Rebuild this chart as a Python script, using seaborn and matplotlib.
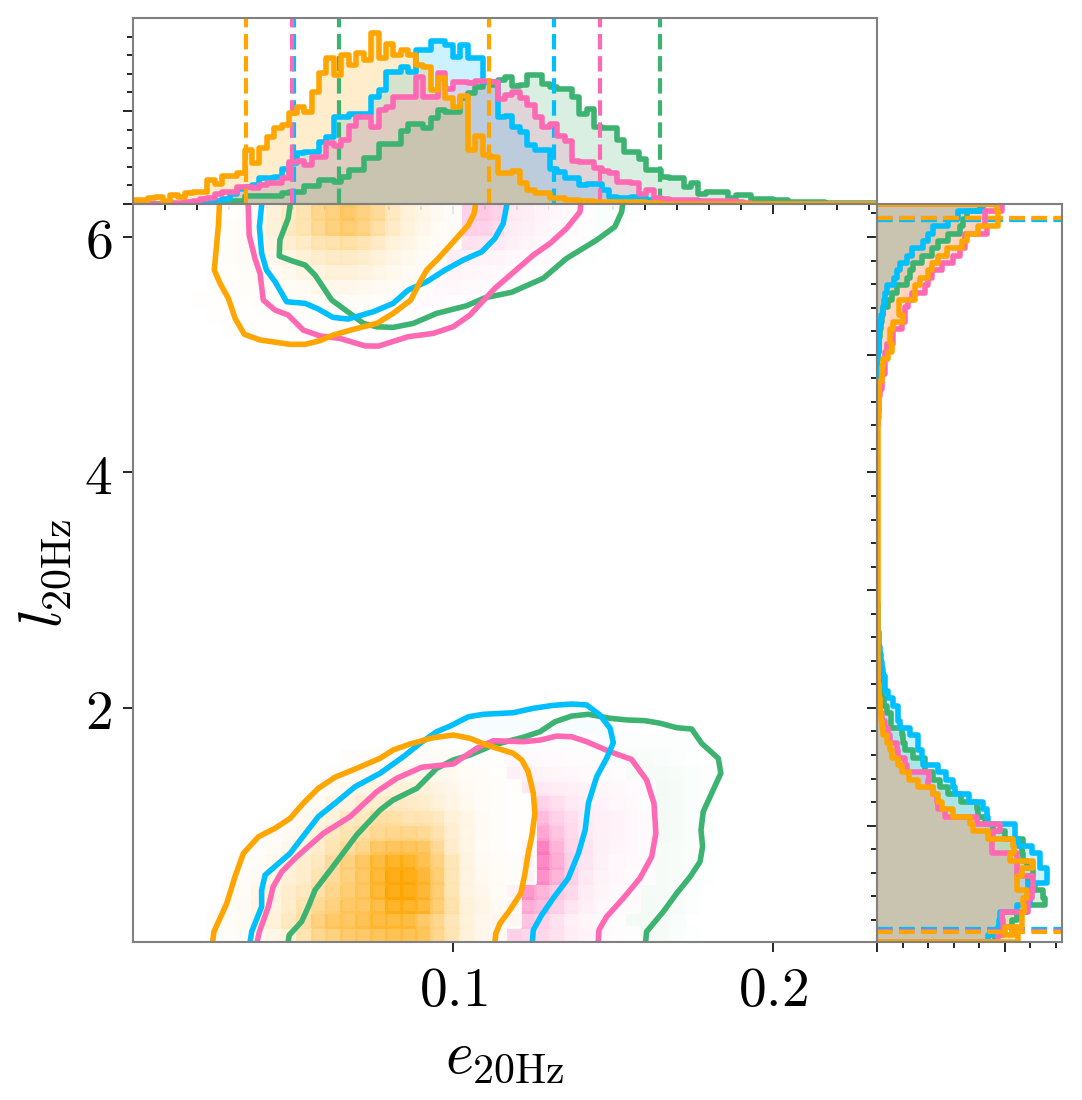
### Joint posterior of eccentricity and mean anomaly with marginal histograms
import numpy as np
import matplotlib
matplotlib.use('Agg')
import matplotlib.pyplot as plt
import seaborn as sns

# colours of the four runs, in drawing order
green = '#3CB371'
blue = '#00BFFF'
pink = '#FF69B4'
orange = '#FFA500'

# top marginal, counts per bin (100 bins)
top_green = [0,0,0,0,0,0,0,0,1,2,4,6,8,10,10,25,25,25,25,25,34,37,37,55,55,72,72,65,82,102,102,137,137,180,180,180,220,240,240,227,257,282,277,277,317,334,352,367,357,372,382,354,357,387,387,360,350,344,344,320,270,284,232,227,227,192,157,157,134,102,102,82,79,79,52,62,30,35,35,35,17,27,27,14,14,14,12,12,7,7,7,7,7,4,4,4,4,4,4,4]
top_blue = [0,0,0,0,0,0,0,1,2,4,5,8,15,30,45,50,57,77,77,80,104,122,152,157,157,187,202,262,262,270,270,270,322,342,397,397,412,397,462,462,490,490,477,442,477,437,437,367,367,262,264,230,217,177,162,162,104,97,77,77,57,60,60,42,22,17,17,22,22,12,4,4,4,2]
top_pink = [0,0,0,0,2,3,4,7,10,15,19,30,37,37,50,52,47,57,64,64,77,127,130,117,142,142,184,174,192,234,262,262,232,282,290,320,322,322,382,320,320,394,344,367,367,362,370,370,367,314,328,337,317,297,262,232,240,205,190,130,127,127,108,100,92,67,65,64,30,42,17,14,12,12,12,12,10,10,10,8,8,6,4,1]
top_orange = [12,12,17,20,10,27,22,32,35,37,72,60,85,85,92,162,124,167,202,227,237,274,290,277,337,392,437,387,447,417,452,432,512,437,479,447,462,447,417,410,342,377,317,292,324,162,204,147,142,92,92,100,62,42,34,32,17,17,12,12,10,8,7,7,6,6,6,5,5,4,3]

# right marginal, counts per bin: lower lobe from the bottom, upper lobe from the top
low_green = [354,379,404,419,449,504,499,474,454,469,449,439,434,439,384,349,324,304,299,251,214,189,169,144,144,109,84,79,74,41,41,29,20,14,10,8,6,5,4,3,3,2]
low_blue = [334,364,367,369,419,459,449,454,509,509,489,489,464,424,414,414,334,329,319,277,234,229,207,184,139,134,124,124,99,69,64,64,47,34,24,24,18,15,12,8,6,5,4,3,3,2]
low_pink = [364,379,379,374,452,454,464,469,469,419,419,419,344,344,349,369,299,204,184,179,169,154,157,89,84,64,59,39,34,24,14,9,7,4,3,3,2,2]
low_orange = [424,384,434,436,441,439,451,419,419,434,469,399,411,409,334,289,279,229,194,184,169,124,97,74,64,46,39,29,19,14,12,9,9,7,5,3]
high_green = [309,269,259,249,214,184,164,134,109,99,89,59,44,34,19,14,11,9,7,5,3]
high_blue = [319,244,214,169,154,139,104,89,69,59,51,31,24,21,19,11,9,7,5,5,3]
high_pink = [374,324,324,329,264,264,249,229,194,164,154,144,104,94,84,84,74,49,49,29,24,24,24,14,14,10,7,5,4,3]
high_orange = [359,364,364,304,269,254,209,184,164,154,129,114,114,67,67,79,49,39,39,44,34,19,14,14,7,7,6,5,5,4,4]

# credible bounds marked on the marginals
bounds_x_green = [0.0644, 0.1647]
bounds_x_blue = [0.0503, 0.1316]
bounds_x_pink = [0.0497, 0.1459]
bounds_x_orange = [0.0353, 0.1112]
bounds_y_green = [0.12, 6.14]
bounds_y_blue = [0.125, 6.14]
bounds_y_pink = [0.105, 6.16]
bounds_y_orange = [0.10, 6.16]

# 90% contours, each with a lower and an upper lobe
green_low_x = [.0485,.0488,.0527,.0548,.0569,.0621,.0699,.0772,.0813,.0887,.0949,.1001,.1053,.1126,.1220,.1272,.1319,.1371,.1423,.1491,.1543,.16,.1647,.1699,.1746,.1777,.1829,.1837,.1813,.1782,.1775,.178,.1772,.1741,.1699,.1657,.1605,.1602]
green_low_y = [.015,.07,.185,.312,.454,.638,.921,1.133,1.218,1.317,1.487,1.558,1.600,1.685,1.751,1.798,1.883,1.931,1.946,1.912,1.898,1.892,1.870,1.832,1.821,1.699,1.572,1.445,1.303,1.119,.963,.821,.694,.566,.425,.269,.100,.015]
green_high_x = [.0491,.0485,.0459,.0457,.0496,.0538,.0569,.0621,.0678,.0720,.0762,.0813,.0876,.0949,.1043,.1100,.1183,.1282,.1355,.1449,.1506,.1527,.1530]
green_high_y = [6.271,6.158,5.974,5.838,5.798,5.761,5.676,5.464,5.351,5.266,5.237,5.232,5.266,5.351,5.416,5.484,5.530,5.649,5.818,5.974,6.087,6.214,6.271]
pink_low_x = [.0388,.0395,.0423,.0438,.0465,.0512,.0595,.0678,.0762,.0824,.0902,.1001,.1074,.1126,.1220,.1272,.1324,.1371,.1418,.1491,.1558,.1605,.1628,.1634,.1621,.1584,.1532,.1480,.1456,.1454]
pink_low_y = [.015,.10,.312,.482,.609,.737,.935,1.076,1.289,1.402,1.496,1.524,1.657,1.722,1.713,1.727,1.761,1.755,1.713,1.628,1.563,1.387,1.19,.935,.737,.553,.383,.227,.114,.015]
pink_high_x = [.0360,.0363,.0381,.0397,.0407,.0444,.0485,.0532,.0584,.0647,.0725,.0767,.0860,.0938,.1001,.1053,.1131,.1251,.1303,.1355,.1397,.1399]
pink_high_y = [6.271,6.016,5.818,5.690,5.464,5.379,5.337,5.209,5.160,5.138,5.075,5.073,5.153,5.181,5.238,5.337,5.564,5.846,5.945,6.073,6.214,6.271]
blue_low_x = [.0366,.0371,.0402,.0402,.0413,.0491,.0527,.0579,.0637,.0694,.0772,.0845,.0897,.0949,.0991,.1048,.1095,.1188,.1251,.1313,.1371,.1418,.1459,.1491,.1501,.148,.1449,.1423,.1413,.1392,.136,.1313,.1277,.1251,.1248]
blue_low_y = [.015,.10,.312,.454,.581,.765,.893,1.076,1.203,1.331,1.445,1.586,1.699,1.798,1.846,1.925,1.946,1.959,1.997,2.022,2.033,2.025,1.94,1.827,1.705,1.572,1.416,1.19,.963,.765,.553,.383,.241,.114,.015]
blue_high_x = [.0402,.0395,.0402,.0417,.0444,.0480,.0538,.0579,.0625,.0672,.0751,.0813,.0860,.0918,.0975,.1032,.1090,.1131,.1157,.1168]
blue_high_y = [6.271,6.087,5.861,5.719,5.620,5.450,5.436,5.388,5.317,5.303,5.365,5.436,5.549,5.620,5.719,5.804,5.874,5.988,6.115,6.271]
orange_low_x = [.0249,.0253,.0293,.0319,.0345,.0392,.0444,.0491,.0532,.0579,.0631,.0699,.0772,.0813,.0866,.0938,.1001,.1053,.1105,.1188,.1215,.1235,.1251,.1256,.1246,.1235,.1225,.1212,.1178,.1147,.1134,.1131]
orange_low_y = [.015,.10,.34,.57,.765,.906,.978,1.062,1.19,1.317,1.411,1.487,1.572,1.643,1.694,1.747,1.77,1.742,1.685,1.615,1.558,1.458,1.275,1.105,.906,.765,.595,.426,.284,.171,.086,.015]
orange_high_x = [.0270,.0267,.0254,.0272,.0298,.0319,.0348,.0397,.0491,.0538,.0584,.0626,.0688,.0762,.0813,.0868,.0897,.0918,.0959,.1001,.1048,.1066,.1070]
orange_high_y = [6.271,6.101,5.719,5.606,5.479,5.309,5.173,5.125,5.088,5.088,5.119,5.167,5.215,5.266,5.351,5.464,5.620,5.719,5.832,5.959,6.101,6.2,6.271]

# 2d density read per cell of the 50x50 grid: (row, first column, values)
cells_green = [
    (0,33,[.07,.07,.05,.03,.01]), (1,33,[.06,.06,.05,.03]), (2,33,[.05,.06,.05,.04,.02]),
    (3,34,[.05,.05,.04,.02]), (4,34,[.04,.05,.04,.03,.01]), (5,34,[.04,.05,.04,.03,.01]),
    (6,34,[.04,.05,.04,.03,.01]), (7,34,[.04,.06,.05,.03,.02]), (8,34,[.04,.06,.05,.03,.02]),
    (9,34,[.04,.06,.05,.03,.02]), (10,34,[.04,.06,.05,.03,.02]), (11,32,[.03,.04,.05,.05,.04,.03,.02]),
    (12,30,[.03,.03,.03,.04,.04,.03,.02,.01]), (13,29,[.02,.02,.02,.02,.02,.02,.02,.02,.02]),
    (49,29,[.03,.03,.03,.03,.02]), (48,28,[.03,.03,.03,.03,.02]), (47,27,[.03,.03,.03,.03,.02]), (46,26,[.02,.02,.02,.02,.01]),
]
cells_blue = [
    (13,25,[.03,.03,.03,.03,.03,.03,.03]), (14,22,[.03,.03,.03,.03,.03,.03,.03,.03,.03,.03]),
]
cells_pink = [
    (0,24,[.02,.3,.28,.28,.2,.12,.08,.05,.02,.01]), (1,24,[.4,.4,.4,.3,.2,.1,.06,.04,.02]),
    (2,25,[.5,.55,.45,.3,.18,.1,.06,.03,.02]), (3,25,[.75,.7,.5,.35,.25,.12,.07,.04,.02]),
    (4,26,[.8,.75,.5,.3,.15,.08,.05,.03,.02]), (5,26,[.85,.8,.55,.3,.17,.09,.05,.04,.03]),
    (6,26,[.6,.85,.5,.28,.18,.1,.07,.05,.03]), (7,27,[.6,.4,.25,.15,.1,.08,.05,.03]),
    (8,27,[.45,.3,.22,.14,.1,.08,.05,.03]), (9,27,[.3,.22,.15,.11,.08,.05,.04,.02]),
    (10,26,[.15,.15,.13,.1,.08,.05,.04,.03,.02]), (11,25,[.1,.08,.07,.06,.05,.04,.03,.02]),
    (12,25,[.05,.04,.03,.03,.02,.02,.01]), (13,24,[.01,.01,.01,.01,.01,.01,.01]),
    (49,22,[.3,.35,.3,.15,.12,.08,.05,.04,.02]), (48,21,[.1,.3,.3,.25,.12,.1,.07,.04,.03,.01]),
    (47,21,[.12,.2,.18,.15,.1,.07,.05,.03,.02]), (46,20,[.08,.12,.1,.08,.07,.05,.04,.03,.02]),
    (45,19,[.05,.06,.07,.06,.05,.04,.03,.02,.01]), (44,18,[.03,.04,.05,.05,.04,.03,.02,.01]),
    (43,16,[.03,.03,.04,.03,.03,.02,.01]), (42,10,[.01,.01,.01,.01,.01,.01,.01,.01,.01,.01,.01]),
]
cells_orange = [
    (0,5,[.02,.02,.03,.05,.1,.15,.3,.45,.5,.58,.6,.65,.68,.68,.65,.45,.3,.15,.08,.05]),
    (1,5,[.02,.03,.05,.1,.15,.25,.35,.5,.6,.62,.68,.75,.75,.75,.6,.45,.28,.15,.08,.05,.03]),
    (2,6,[.03,.05,.1,.12,.2,.3,.42,.5,.6,.62,.72,.85,.85,.78,.55,.33,.15,.1,.05,.03]),
    (3,6,[.02,.04,.08,.12,.2,.25,.35,.45,.55,.62,.78,.95,.95,.8,.55,.3,.12,.08,.04,.02]),
    (4,7,[.03,.05,.1,.15,.2,.3,.4,.5,.6,.78,.98,1,.8,.55,.28,.12,.06,.04,.02,.01]),
    (5,7,[.02,.03,.06,.12,.2,.25,.38,.5,.62,.75,.85,.85,.7,.5,.28,.12,.05,.03,.02,.01]),
    (6,8,[.02,.03,.08,.12,.2,.3,.38,.45,.6,.65,.65,.62,.42,.2,.1,.04,.02,.01,.01]),
    (7,9,[.03,.05,.1,.15,.25,.3,.35,.42,.45,.45,.42,.32,.18,.1,.05,.02,.01,.01]),
    (8,10,[.03,.06,.1,.15,.22,.25,.35,.35,.3,.3,.25,.15,.1,.05,.02,.01,.01]),
    (9,11,[.03,.05,.1,.12,.18,.2,.22,.22,.2,.15,.1,.06,.03,.02,.01,.01]),
    (10,12,[.03,.04,.07,.1,.12,.15,.15,.15,.12,.08,.05,.03,.02,.01]),
    (11,13,[.02,.03,.05,.05,.08,.08,.08,.06,.06,.04,.03,.01]),
    (12,14,[.02,.02,.03,.03,.03,.03,.03,.03,.02,.01]),
    (49,5,[.01,.01,.02,.05,.15,.22,.3,.45,.5,.6,.5,.4,.25,.15,.1,.06,.03]),
    (48,6,[.02,.03,.06,.15,.25,.3,.42,.5,.55,.48,.35,.22,.14,.08,.04,.02]),
    (47,6,[.02,.03,.05,.12,.18,.22,.3,.32,.35,.3,.22,.14,.1,.06,.03,.02]),
    (46,5,[.01,.02,.03,.05,.08,.1,.16,.2,.22,.22,.2,.15,.1,.07,.04,.02]),
    (45,5,[.01,.015,.02,.03,.05,.07,.1,.12,.15,.15,.12,.1,.07,.05,.03,.02]),
    (44,5,[.01,.01,.02,.02,.03,.04,.05,.08,.08,.08,.06,.05,.04,.03,.02]),
    (43,4,[.01,.01,.01,.01,.02,.02,.02,.03,.03,.03,.03,.03,.02,.02,.01]),
    (42,5,[.01,.01,.01,.01,.01,.01,.01,.01,.01,.01,.01]),
    (41,6,[.01,.01,.01,.01,.01,.01,.01,.01,.01]),
]

x_tick_labels = ['$0.1$', '$0.2$']
y_tick_labels = ['$2$', '$4$', '$6$']

sns.set_style('ticks')
plt.rcParams['mathtext.fontset'] = 'cm'
plt.rcParams['font.family'] = ['DejaVu Serif']
plt.rcParams['text.color'] = 'black'
plt.rcParams['axes.labelcolor'] = 'black'
plt.rcParams['xtick.color'] = 'black'
plt.rcParams['ytick.color'] = 'black'

W, H = 1082, 1100
fig = plt.figure(figsize=(W / 100, H / 100), dpi=100)
ax_top = fig.add_axes([133 / W, (H - 204) / H, 744 / W, 186 / H], zorder=1)
ax_right = fig.add_axes([877 / W, (H - 942) / H, 185 / W, 738 / H], zorder=1)
ax_main = fig.add_axes([133 / W, (H - 942) / H, 744 / W, 738 / H], zorder=2)
ax_main.patch.set_alpha(0)

xlim = (0, 0.2325)
ylim = (0.012, 6.28)
hist_x_edges = list(np.linspace(*xlim, 101))
hist_y_edges = list(np.linspace(*ylim, 101))
grid_x_edges = np.linspace(*xlim, 51)
grid_y_edges = np.linspace(*ylim, 51)
hist_x_mid = (np.array(hist_x_edges[:-1]) + np.array(hist_x_edges[1:])) / 2
hist_y_mid = (np.array(hist_y_edges[:-1]) + np.array(hist_y_edges[1:])) / 2
grid_x_mid = (grid_x_edges[:-1] + grid_x_edges[1:]) / 2
grid_y_mid = (grid_y_edges[:-1] + grid_y_edges[1:]) / 2

LW = 4
DASH_LW = 3


def right_counts(low, high, tail):
    # lower and upper lobe with a small tail in between
    counts = np.full(100, float(tail))
    counts[:len(low)] = low
    counts[-len(high):] = high[::-1]
    return counts


def draw_top(counts, color, bounds):
    counts = np.array(counts + [0] * (100 - len(counts)), dtype=float)
    sns.histplot(x=hist_x_mid, weights=counts, bins=hist_x_edges, element='step', fill=True,
                 color=color, alpha=0.2, linewidth=0, ax=ax_top)
    sns.histplot(x=hist_x_mid, weights=counts, bins=hist_x_edges, element='step', fill=False,
                 color=color, linewidth=LW, ax=ax_top)
    for b in bounds:
        ax_top.axvline(b, color=color, ls='--', lw=DASH_LW)


def draw_right(counts, color, bounds):
    sns.histplot(y=hist_y_mid, weights=counts, bins=hist_y_edges, element='step', fill=True,
                 color=color, alpha=0.2, linewidth=0, ax=ax_right)
    sns.histplot(y=hist_y_mid, weights=counts, bins=hist_y_edges, element='step', fill=False,
                 color=color, linewidth=LW, ax=ax_right)
    # the outline closes on the first and last bin edge
    ax_right.plot([0, counts[0]], [hist_y_edges[0], hist_y_edges[0]], color=color, lw=LW)
    ax_right.plot([0, counts[-1]], [hist_y_edges[-1], hist_y_edges[-1]], color=color, lw=LW)
    for b in bounds:
        ax_right.axhline(b, color=color, ls='--', lw=DASH_LW)


def draw_cells(cells, color):
    xs, ys, ws = [], [], []
    for row, first, values in cells:
        for i, v in enumerate(values):
            xs.append(grid_x_mid[first + i])
            ys.append(grid_y_mid[row])
            ws.append(v)
    cmap = sns.blend_palette(['white', color], as_cmap=True)
    sns.histplot(x=xs, y=ys, weights=ws, bins=(grid_x_edges, grid_y_edges), cmap=cmap,
                 vmin=0, vmax=0.92, alpha=0.9, linewidth=0.8, edgecolor='face', ax=ax_main)


draw_top(top_green, green, bounds_x_green)
draw_top(top_blue, blue, bounds_x_blue)
draw_top(top_pink, pink, bounds_x_pink)
draw_top(top_orange, orange, bounds_x_orange)

draw_right(right_counts(low_green, high_green, 1), green, bounds_y_green)
draw_right(right_counts(low_blue, high_blue, 1), blue, bounds_y_blue)
draw_right(right_counts(low_pink, high_pink, 1), pink, bounds_y_pink)
draw_right(right_counts(low_orange, high_orange, 3), orange, bounds_y_orange)

draw_cells(cells_green, green)
draw_cells(cells_blue, blue)
draw_cells(cells_pink, pink)
draw_cells(cells_orange, orange)

# contours
for c, lx, ly, hx, hy in [(green, green_low_x, green_low_y, green_high_x, green_high_y),
                          (pink, pink_low_x, pink_low_y, pink_high_x, pink_high_y),
                          (blue, blue_low_x, blue_low_y, blue_high_x, blue_high_y),
                          (orange, orange_low_x, orange_low_y, orange_high_x, orange_high_y)]:
    sns.lineplot(x=lx, y=ly, sort=False, estimator=None, color=c, linewidth=LW, ax=ax_main)
    sns.lineplot(x=hx, y=hy, sort=False, estimator=None, color=c, linewidth=LW, ax=ax_main)

# limits and ticks
ax_main.set_xlim(*xlim)
ax_main.set_ylim(*ylim)
ax_main.set_xticks([0.1, 0.2], x_tick_labels)
ax_main.set_yticks([2, 4, 6], y_tick_labels)
ax_main.tick_params(axis='both', labelsize=40, length=7, width=1.2, color='black', pad=8)
ax_main.set_xlabel(r'$e_{20\mathrm{Hz}}$', fontsize=43, labelpad=7)
ax_main.set_ylabel(r'$l_{20\mathrm{Hz}}$', fontsize=43, labelpad=8)

ax_top.set_xlim(*xlim)
ax_top.set_ylim(0, 558)
ax_top.set_xticks([0.1, 0.2])
ax_top.set_xticks(np.arange(0, 0.2325, 0.01), minor=True)
ax_top.set_yticks([0, 279])
ax_top.set_yticks(np.arange(0, 558, 55.8), minor=True)
ax_right.set_ylim(*ylim)
ax_right.set_xlim(0, 555)
ax_right.set_xticks([0, 382.5])
ax_right.set_xticks(np.arange(0, 555, 76.5), minor=True)
ax_right.set_yticks([1, 2, 3, 4, 5, 6])
ax_right.set_yticks(np.arange(0.2, 6.28, 0.2), minor=True)
for ax in [ax_top, ax_right]:
    ax.set_xlabel('')
    ax.set_ylabel('')
    ax.tick_params(which='major', length=7, width=1.2, labelbottom=False, labelleft=False)
    ax.tick_params(which='minor', length=4.5, width=1.2, labelbottom=False, labelleft=False)

for ax in [ax_top, ax_right, ax_main]:
    for s in ax.spines.values():
        s.set_visible(True)
        s.set_color('gray')
        s.set_linewidth(1.5)

fig.savefig('out.png', dpi=100)
